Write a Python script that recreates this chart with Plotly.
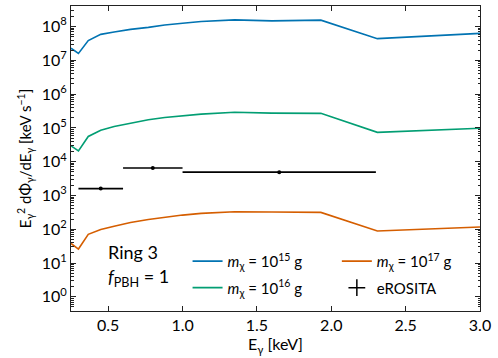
import plotly.graph_objects as go

# photon energies (keV) at which the spectra were read
energy = [0.25, 0.30, 0.366, 0.45, 0.54, 0.65, 0.77, 0.88, 1.0, 1.125, 1.35, 1.6, 1.93, 2.31, 3.0]

# E^2 dPhi/dE  [keV s^-1] for each PBH mass
flux_1e15 = [2.3e7, 1.6e7, 3.85e7, 5.9e7, 6.9e7, 8.3e7, 9.5e7, 1.12e8, 1.26e8, 1.41e8, 1.58e8, 1.48e8, 1.55e8, 4.4e7, 6.3e7]
flux_1e16 = [2.95e4, 2.1e4, 5.6e4, 8.5e4, 1.1e5, 1.4e5, 1.74e5, 2.04e5, 2.3e5, 2.57e5, 2.9e5, 2.75e5, 2.7e5, 7.4e4, 9.8e4]
flux_1e17 = [38, 26, 71, 98, 123, 158, 195, 229, 263, 295, 331, 324, 316, 89, 117]

# eROSITA data (bin centres, half widths, flux)
ero_e = [0.45, 0.8, 1.65]
ero_lo = [0.15, 0.2, 0.65]
ero_hi = [0.15, 0.2, 0.65]
ero_flux = [1.6e3, 6.5e3, 4.9e3]

ytick_pow = list(range(0, 9))
xtick_vals = [0.5, 1.0, 1.5, 2.0, 2.5, 3.0]
minor_vals = [k * 10.0 ** p for p in range(-1, 9) for k in range(2, 10)]

blue, green, orange = "#0173b2", "#029e73", "#d55e00"
font = "Lato, 'DejaVu Sans', sans-serif"

fig = go.Figure()
fig.add_trace(go.Scatter(x=energy, y=flux_1e15, mode="lines", line=dict(color=blue, width=1.6),
                         name="<i>m</i><sub>χ</sub> = 10<sup>15</sup> g", legend="legend", legendgroup="a"))
fig.add_trace(go.Scatter(x=energy, y=flux_1e16, mode="lines", line=dict(color=green, width=1.6),
                         name="<i>m</i><sub>χ</sub> = 10<sup>16</sup> g", legend="legend", legendgroup="b"))
fig.add_trace(go.Scatter(x=energy, y=flux_1e17, mode="lines", line=dict(color=orange, width=1.6),
                         name="<i>m</i><sub>χ</sub> = 10<sup>17</sup> g", legend="legend2", legendgroup="c"))
fig.add_trace(go.Scatter(x=ero_e, y=ero_flux, mode="markers", showlegend=False,
                         marker=dict(color="black", size=4),
                         error_x=dict(type="data", symmetric=False, array=ero_hi, arrayminus=ero_lo,
                                      color="black", thickness=1.6, width=0)))
# legend entry only for eROSITA (cross symbol like an errorbar)
fig.add_trace(go.Scatter(x=[None], y=[None], mode="markers", name="eROSITA", legend="legend2",
                         legendgroup="d",
                         marker=dict(symbol="cross-thin", size=12, line=dict(color="black", width=1.5))))

fig.add_annotation(x=0.085, y=0.195, xref="paper", yref="paper", xanchor="left", yanchor="middle",
                   text="Ring 3", showarrow=False, font=dict(size=18, color="black"))
fig.add_annotation(x=0.085, y=0.11, xref="paper", yref="paper", xanchor="left", yanchor="middle",
                   text="<i>f</i><sub>PBH</sub> = 1", showarrow=False, font=dict(size=18, color="black"))

axis_common = dict(showline=True, linecolor="#222", linewidth=1, mirror="allticks", ticks="inside",
                   tickcolor="#222", showgrid=False, zeroline=False, automargin=False)

fig.update_layout(
    width=498, height=358,
    margin=dict(l=71, r=18, t=6, b=47),
    plot_bgcolor="white", paper_bgcolor="white",
    font=dict(family=font, size=16, color="black"),
    xaxis=dict(range=[0.25, 3.0], tickvals=xtick_vals, ticktext=[f"{v:.1f}" for v in xtick_vals],
               ticklen=5, title=dict(text="E<sub>γ</sub> [keV]", font=dict(size=16), standoff=4),
               **axis_common),
    yaxis=dict(type="log", range=[-0.42, 8.61], tickvals=[10 ** p for p in ytick_pow],
               ticktext=[f"10<sup>{p}</sup>" for p in ytick_pow], ticklen=5,
               minor=dict(tickmode="array", tickvals=minor_vals, ticks="inside", ticklen=2.5,
                          tickcolor="#222", showgrid=False),
               title=dict(text="E<sub>γ</sub><sup>2</sup> dΦ<sub>γ</sub>/dE<sub>γ</sub> [keV s<sup>−1</sup>]",
                          font=dict(size=15), standoff=6),
               **axis_common),
    legend=dict(x=0.285, y=0.12, xanchor="left", yanchor="middle", bgcolor="rgba(0,0,0,0)",
                font=dict(size=15), itemwidth=30, tracegroupgap=4),
    legend2=dict(x=0.65, y=0.12, xanchor="left", yanchor="middle", bgcolor="rgba(0,0,0,0)",
                 font=dict(size=15), itemwidth=30, tracegroupgap=4),
)

# drop the default page margin so the figure sits at the window's corner
fig.write_html("out.html", config={"displayModeBar": False},
               post_script="document.body.style.margin='0px';")
